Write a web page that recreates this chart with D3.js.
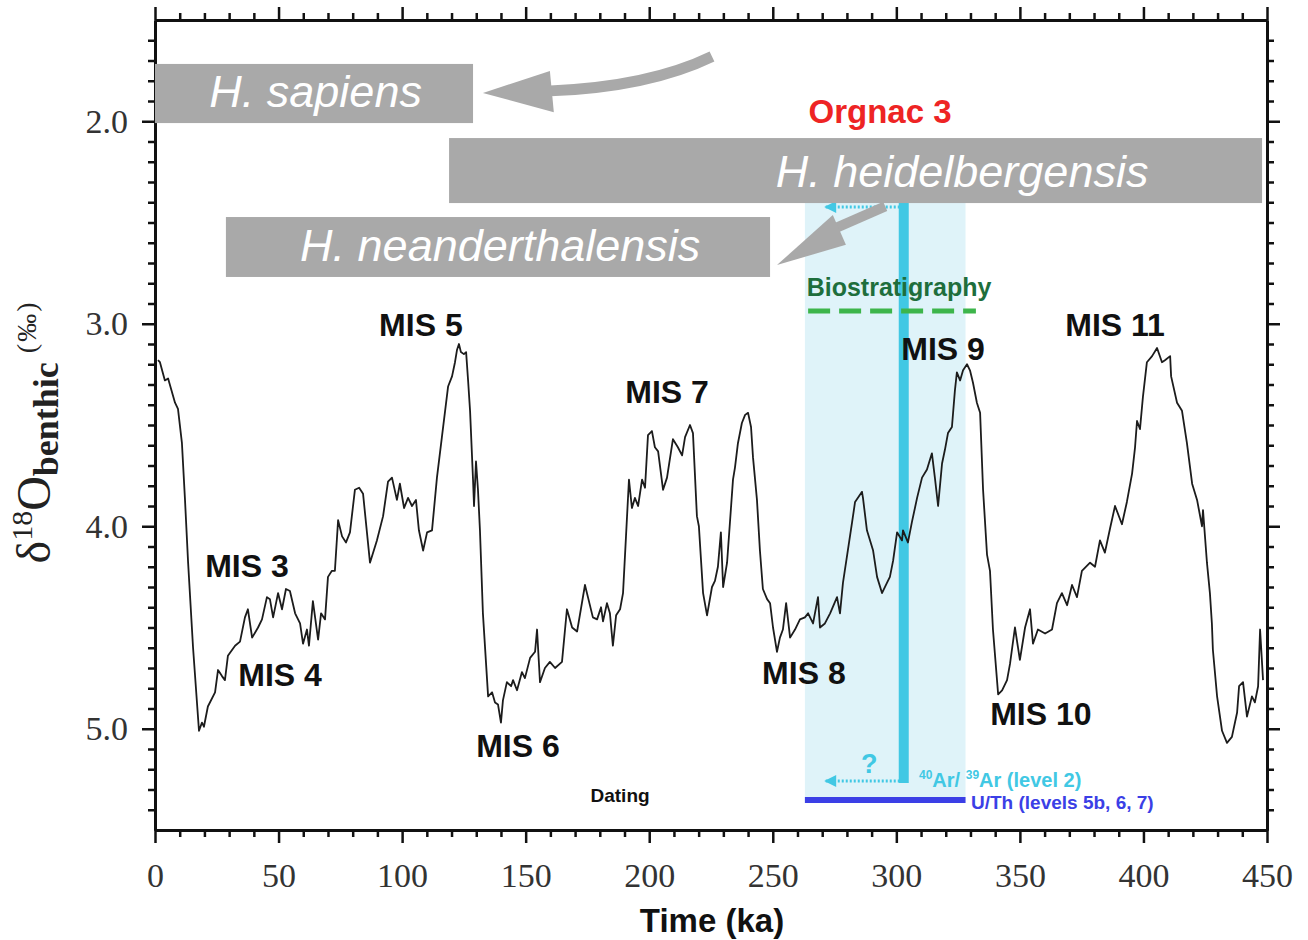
<!DOCTYPE html>
<html>
<head>
<meta charset="utf-8">
<script src="https://cdn.jsdelivr.net/npm/d3@7"></script>
<style>
  body { margin: 0; background: #fff; }
  svg { display: block; }
</style>
</head>
<body>
<div id="chart"></div>
<script>
// benthic d18O record (age in ka, d18O in permil)
var ageKa = [
  1.2,2.0,4.0,5.3,8.1,9.3,10.9,12.1,13.4,15.4,
  17.8,19.0,19.8,21.4,24.3,25.5,27.1,28.3,29.5,32.4,
  34.4,36.4,37.6,39.3,41.7,43.3,45.3,46.5,47.8,49.8,
  51.4,53.0,54.6,56.7,58.7,59.9,61.5,62.3,63.9,66.0,
  67.2,68.8,70.0,71.6,72.8,74.1,75.7,77.3,78.9,80.9,
  82.6,84.2,87.0,89.8,92.3,94.3,95.9,97.9,99.1,100.8,
  102.4,104.0,105.6,106.8,108.5,110.1,112.1,114.1,116.1,118.6,
  120.2,121.4,122.2,123.0,123.8,125.0,125.9,126.7,127.5,128.7,
  129.1,129.9,130.7,131.5,132.7,134.8,136.4,137.6,138.8,140.0,
  140.8,142.4,144.1,144.9,146.5,148.5,149.7,151.8,153.8,154.6,
  155.8,157.8,159.8,161.9,164.7,166.7,168.8,170.8,174.0,175.2,
  177.2,178.9,180.5,181.3,182.9,184.1,185.3,186.6,188.2,189.4,
  190.6,191.8,193.0,194.2,195.5,197.1,198.3,199.5,201.1,202.3,
  203.6,205.6,207.2,209.6,211.6,213.3,214.5,216.5,217.7,219.3,
  220.1,221.8,223.4,225.4,226.6,227.8,229.0,229.9,231.5,233.9,
  234.7,235.9,237.5,238.8,240.0,241.2,242.0,243.6,244.8,246.0,
  247.7,248.9,250.1,251.7,252.9,254.1,255.4,257.0,259.0,261.0,
  263.0,264.3,266.3,268.3,269.1,271.1,273.2,276.0,277.2,278.4,
  280.0,282.1,283.3,286.1,286.5,288.1,290.6,292.2,294.2,296.2,
  297.4,298.7,300.3,302.3,302.7,304.7,306.3,308.4,310.4,312.4,
  314.4,315.6,316.9,318.5,319.7,320.9,322.5,323.7,324.5,325.8,
  327.0,328.6,329.8,331.0,332.6,333.9,335.1,336.7,337.9,339.1,
  341.2,342.8,344.8,346.0,348.0,350.0,352.1,354.1,355.3,357.3,
  360.2,363.0,365.0,367.0,369.1,371.1,373.1,375.1,378.4,380.4,
  382.4,384.4,386.5,388.5,391.3,393.3,395.4,396.6,397.4,398.6,
  399.8,401.4,403.5,405.5,407.5,408.7,410.8,411.2,413.6,415.6,
  417.6,419.7,421.7,423.7,424.1,425.7,426.9,427.7,428.1,429.8,
  431.8,433.8,435.8,437.9,438.7,440.3,441.9,443.9,445.1,446.4,
  447.2,448.4
];
var d18O = [
  3.18,3.19,3.28,3.27,3.39,3.42,3.59,3.86,4.18,4.60,
  5.01,4.97,4.99,4.89,4.82,4.71,4.74,4.76,4.64,4.59,
  4.57,4.45,4.41,4.55,4.50,4.46,4.35,4.36,4.45,4.33,
  4.41,4.31,4.32,4.43,4.48,4.58,4.51,4.59,4.37,4.56,
  4.43,4.46,4.25,4.22,4.22,3.97,4.05,4.08,4.03,3.82,
  3.81,3.84,4.18,4.07,3.95,3.78,3.76,3.87,3.79,3.91,
  3.86,3.90,3.87,4.02,4.12,4.03,4.02,3.76,3.56,3.31,
  3.26,3.19,3.13,3.10,3.14,3.15,3.14,3.28,3.43,3.77,
  3.90,3.68,3.82,4.02,4.43,4.84,4.82,4.87,4.88,4.97,
  4.86,4.77,4.79,4.76,4.81,4.72,4.75,4.65,4.62,4.51,
  4.77,4.70,4.67,4.70,4.67,4.41,4.50,4.52,4.29,4.35,
  4.45,4.46,4.40,4.47,4.38,4.43,4.59,4.44,4.41,4.33,
  4.05,3.77,3.91,3.86,3.90,3.77,3.81,3.55,3.53,3.61,
  3.63,3.82,3.76,3.57,3.61,3.65,3.56,3.50,3.54,3.95,
  4.00,4.33,4.44,4.30,4.27,4.20,4.03,4.30,4.18,3.77,
  3.71,3.59,3.49,3.45,3.44,3.51,3.66,3.87,4.12,4.31,
  4.36,4.38,4.50,4.62,4.55,4.51,4.38,4.55,4.51,4.46,
  4.45,4.43,4.48,4.35,4.50,4.48,4.43,4.35,4.43,4.28,
  4.15,3.98,3.88,3.83,3.86,4.02,4.12,4.25,4.33,4.28,
  4.25,4.17,4.03,4.07,4.02,4.08,3.98,3.86,3.76,3.72,
  3.64,3.76,3.90,3.69,3.62,3.54,3.51,3.33,3.24,3.28,
  3.23,3.20,3.23,3.29,3.39,3.44,3.82,4.14,4.22,4.51,
  4.83,4.81,4.76,4.68,4.50,4.66,4.50,4.41,4.58,4.51,
  4.53,4.51,4.38,4.33,4.39,4.29,4.35,4.22,4.18,4.20,
  4.07,4.13,4.01,3.90,3.99,3.88,3.74,3.61,3.48,3.52,
  3.36,3.19,3.16,3.12,3.19,3.18,3.16,3.26,3.39,3.43,
  3.59,3.79,3.87,4.00,3.92,4.18,4.33,4.48,4.61,4.84,
  5.01,5.07,5.04,4.92,4.79,4.77,4.94,4.84,4.87,4.79,
  4.51,4.76
];

// marine isotope stage labels
var misNames = ['MIS 3', 'MIS 4', 'MIS 5', 'MIS 6', 'MIS 7', 'MIS 8', 'MIS 9', 'MIS 10', 'MIS 11'];
var misAgeKa = [37.2, 50.6, 107.6, 146.9, 207.2, 262.6, 318.9, 358.5, 388.5];
var misD18O = [4.25, 4.79, 3.06, 5.14, 3.39, 4.78, 3.18, 4.98, 3.06];

// hominin time ranges (ka)
var speciesNames = ['H. sapiens', 'H. heidelbergensis', 'H. neanderthalensis'];
var speciesStartKa = [0, 119, 28.7];
var speciesEndKa = [128.7, 448, 248.9];

// Orgnac 3 dating
var datingRangeKa = [263, 328];
var arArAgeKa = 303;
var bioRangeKa = [264.3, 332.2];

var xTickValues = [0, 50, 100, 150, 200, 250, 300, 350, 400, 450];
var yTickValues = [2.0, 3.0, 4.0, 5.0];

var svgWidth = 1308;
var svgHeight = 940;

var svg = d3.select('#chart')
            .append('svg')
            .attr('width', svgWidth)
            .attr('height', svgHeight)
            .style('background', '#fff');

var x = d3.scaleLinear().domain([0, 450]).range([155, 1267]);
var y = d3.scaleLinear().domain([1.5, 5.5]).range([20, 830]);

var serif = '"Liberation Serif", "Times New Roman", serif';
var sans = '"Liberation Sans", Arial, sans-serif';

var cyan = '#41c8e4';
var grey = '#a9a9a9';

// --- dating band and cyan Ar/Ar line (under the curve)
svg.append('rect')
   .attr('x', x(datingRangeKa[0]))
   .attr('y', y(2.404))
   .attr('width', x(datingRangeKa[1]) - x(datingRangeKa[0]))
   .attr('height', y(5.367) - y(2.404))
   .attr('fill', '#dff3f9');

svg.append('line')
   .attr('x1', x(arArAgeKa)).attr('x2', x(arArAgeKa))
   .attr('y1', y(2.404)).attr('y2', y(5.268))
   .attr('stroke', cyan)
   .attr('stroke-width', 10);

// dotted arrows from the Ar/Ar line
var defs = svg.append('defs');
defs.append('marker')
    .attr('id', 'cyanHead')
    .attr('viewBox', '0 0 10 10')
    .attr('refX', 9).attr('refY', 5)
    .attr('markerWidth', 5).attr('markerHeight', 4)
    .attr('markerUnits', 'strokeWidth')
    .attr('orient', 'auto')
    .append('path')
    .attr('d', 'M0,0 L10,5 L0,10 z')
    .attr('fill', cyan);

[2.423, 5.258].forEach(function(v) {
    svg.append('line')
       .attr('x1', x(arArAgeKa) - 4).attr('x2', x(271.3))
       .attr('y1', y(v)).attr('y2', y(v))
       .attr('stroke', cyan)
       .attr('stroke-width', 3)
       .attr('stroke-dasharray', '2,2')
       .attr('marker-end', 'url(#cyanHead)');
});

svg.append('text')
   .attr('x', x(289)).attr('y', y(5.26) - 8)
   .attr('text-anchor', 'middle')
   .attr('font-family', sans)
   .attr('font-weight', 'bold')
   .attr('font-size', '27px')
   .attr('fill', cyan)
   .text('?');

// U/Th bar
svg.append('line')
   .attr('x1', x(datingRangeKa[0])).attr('x2', x(datingRangeKa[1]))
   .attr('y1', y(5.352)).attr('y2', y(5.352))
   .attr('stroke', '#3b3fe6')
   .attr('stroke-width', 6);

// biostratigraphy dashed line
svg.append('line')
   .attr('x1', x(bioRangeKa[0])).attr('x2', x(bioRangeKa[1]))
   .attr('y1', y(2.937)).attr('y2', y(2.937))
   .attr('stroke', '#3db54b')
   .attr('stroke-width', 5)
   .attr('stroke-dasharray', '22,9');

// --- the isotope curve
var curveData = ageKa.map(function(a, i) { return {age: a, v: d18O[i]}; });

var line = d3.line()
             .x(d => x(d.age))
             .y(d => y(d.v));

svg.append('path')
   .datum(curveData)
   .attr('d', line)
   .attr('fill', 'none')
   .attr('stroke', '#1c1c1c')
   .attr('stroke-width', 1.8)
   .attr('stroke-linejoin', 'round');

// --- axes (ticks point outward on all four sides)
var majorX = 13, minorX = 7;
var minorXValues = d3.range(0, 451, 10).filter(v => v % 50 !== 0);
var minorYValues = d3.range(16, 55).map(v => v / 10).filter(v => Math.abs(v - Math.round(v)) > 0.01);

function styleAxis(g) {
    g.selectAll('path.domain').attr('stroke', '#111').attr('stroke-width', 3);
    g.selectAll('.tick line').attr('stroke', '#111').attr('stroke-width', 2.5);
}

svg.append('g')
   .attr('transform', 'translate(0,830)')
   .call(d3.axisBottom(x).tickValues(xTickValues).tickSize(majorX).tickSizeOuter(0).tickPadding(20))
   .call(styleAxis)
   .call(g => g.selectAll('text')
               .attr('font-family', serif)
               .attr('font-size', '34px')
               .attr('fill', '#333'));

svg.append('g')
   .attr('transform', 'translate(0,830)')
   .call(d3.axisBottom(x).tickValues(minorXValues).tickSize(minorX).tickSizeOuter(0).tickFormat(''))
   .call(styleAxis);

svg.append('g')
   .attr('transform', 'translate(0,20)')
   .call(d3.axisTop(x).tickValues(xTickValues).tickSize(majorX).tickSizeOuter(0).tickFormat(''))
   .call(styleAxis);

svg.append('g')
   .attr('transform', 'translate(0,20)')
   .call(d3.axisTop(x).tickValues(minorXValues).tickSize(minorX).tickSizeOuter(0).tickFormat(''))
   .call(styleAxis);

svg.append('g')
   .attr('transform', 'translate(155,0)')
   .call(d3.axisLeft(y).tickValues(yTickValues).tickSize(majorX).tickSizeOuter(0).tickPadding(14).tickFormat(d3.format('.1f')))
   .call(styleAxis)
   .call(g => g.selectAll('text')
               .attr('font-family', serif)
               .attr('font-size', '34px')
               .attr('fill', '#333'));

svg.append('g')
   .attr('transform', 'translate(155,0)')
   .call(d3.axisLeft(y).tickValues(minorYValues).tickSize(minorX).tickSizeOuter(0).tickFormat(''))
   .call(styleAxis);

svg.append('g')
   .attr('transform', 'translate(1267,0)')
   .call(d3.axisRight(y).tickValues(yTickValues).tickSize(majorX).tickSizeOuter(0).tickFormat(''))
   .call(styleAxis);

svg.append('g')
   .attr('transform', 'translate(1267,0)')
   .call(d3.axisRight(y).tickValues(minorYValues).tickSize(minorX).tickSizeOuter(0).tickFormat(''))
   .call(styleAxis);

// axis titles
svg.append('text')
   .attr('x', 712).attr('y', 932)
   .attr('text-anchor', 'middle')
   .attr('font-family', sans)
   .attr('font-weight', 'bold')
   .attr('font-size', '33px')
   .attr('fill', '#111')
   .text('Time (ka)');

var yTitle = svg.append('text')
   .attr('transform', 'translate(50,432) rotate(-90)')
   .attr('text-anchor', 'middle')
   .attr('font-family', serif)
   .attr('fill', '#222');
yTitle.append('tspan').attr('font-size', '48px').text('δ');
yTitle.append('tspan').attr('font-size', '30px').attr('dy', -18).text('18');
yTitle.append('tspan').attr('font-size', '48px').attr('dy', 18).text('O');
yTitle.append('tspan').attr('font-size', '36px').attr('font-weight', 'bold').attr('dy', 8).text('benthic');
yTitle.append('tspan').attr('font-size', '28px').attr('dy', -22).attr('letter-spacing', '2px').text(' (‰)');

// --- MIS labels
svg.selectAll(null)
   .data(misNames)
   .enter()
   .append('text')
   .attr('x', (d, i) => x(misAgeKa[i]))
   .attr('y', (d, i) => y(misD18O[i]))
   .attr('text-anchor', 'middle')
   .attr('font-family', sans)
   .attr('font-weight', 'bold')
   .attr('font-size', '32px')
   .attr('fill', '#111')
   .text(d => d);

// --- dating annotations
svg.append('text')
   .attr('x', x(301.1)).attr('y', y(2.863))
   .attr('text-anchor', 'middle')
   .attr('font-family', sans)
   .attr('font-weight', 'bold')
   .attr('font-size', '25px')
   .attr('fill', '#1e6e3c')
   .text('Biostratigraphy');

svg.append('text')
   .attr('x', x(293.4)).attr('y', y(2.009))
   .attr('text-anchor', 'middle')
   .attr('font-family', sans)
   .attr('font-weight', 'bold')
   .attr('font-size', '33px')
   .attr('fill', '#ee2424')
   .text('Orgnac 3');

svg.append('text')
   .attr('x', x(188.2)).attr('y', y(5.362))
   .attr('text-anchor', 'middle')
   .attr('font-family', sans)
   .attr('font-weight', 'bold')
   .attr('font-size', '19px')
   .attr('fill', '#111')
   .text('Dating');

var arText = svg.append('text')
   .attr('x', 919).attr('y', y(5.29))
   .attr('font-family', sans)
   .attr('font-weight', 'bold')
   .attr('font-size', '20px')
   .attr('fill', cyan);
arText.append('tspan').attr('font-size', '12px').attr('dy', -8).text('40');
arText.append('tspan').attr('dy', 8).text('Ar/ ');
arText.append('tspan').attr('font-size', '12px').attr('dy', -8).text('39');
arText.append('tspan').attr('dy', 8).text('Ar (level 2)');

svg.append('text')
   .attr('x', 971).attr('y', y(5.398))
   .attr('font-family', sans)
   .attr('font-weight', 'bold')
   .attr('font-size', '19px')
   .attr('fill', '#3b3fe6')
   .text('U/Th (levels 5b, 6, 7)');

// --- grey arrows between species boxes
svg.append('path')
   .attr('d', 'M' + x(225.4) + ',' + y(1.68) +
              ' Q' + x(200) + ',' + y(1.83) + ' ' + x(160) + ',' + y(1.85))
   .attr('fill', 'none')
   .attr('stroke', grey)
   .attr('stroke-width', 11);
svg.append('path')
   .attr('d', 'M' + x(132.7) + ',' + y(1.86) +
              ' L' + x(159.8) + ',' + y(1.752) +
              ' L' + x(161.4) + ',' + y(1.955) + ' Z')
   .attr('fill', grey);

svg.append('path')
   .attr('d', 'M' + x(295.5) + ',' + y(2.42) + ' L' + x(274) + ',' + y(2.535))
   .attr('fill', 'none')
   .attr('stroke', grey)
   .attr('stroke-width', 10);
svg.append('path')
   .attr('d', 'M' + x(251.7) + ',' + y(2.71) +
              ' L' + x(274.3) + ',' + y(2.463) +
              ' L' + x(279.6) + ',' + y(2.61) + ' Z')
   .attr('fill', grey);

// --- species boxes
var boxTop = [1.717, 2.083, 2.473];
var boxBottom = [2.009, 2.404, 2.769];
var labelKa = [65, 326.6, 139.7];

svg.selectAll('rect.species')
   .data(speciesNames)
   .enter()
   .append('rect')
   .attr('class', 'species')
   .attr('x', (d, i) => x(speciesStartKa[i]))
   .attr('y', (d, i) => y(boxTop[i]))
   .attr('width', (d, i) => x(speciesEndKa[i]) - x(speciesStartKa[i]))
   .attr('height', (d, i) => y(boxBottom[i]) - y(boxTop[i]))
   .attr('fill', grey);

svg.selectAll('text.species')
   .data(speciesNames)
   .enter()
   .append('text')
   .attr('class', 'species')
   .attr('x', (d, i) => x(labelKa[i]))
   .attr('y', (d, i) => y(boxBottom[i]) - 16)
   .attr('text-anchor', 'middle')
   .attr('font-family', sans)
   .attr('font-style', 'italic')
   .attr('font-size', '45px')
   .attr('fill', '#fff')
   .text(d => d);
</script>
</body>
</html>
